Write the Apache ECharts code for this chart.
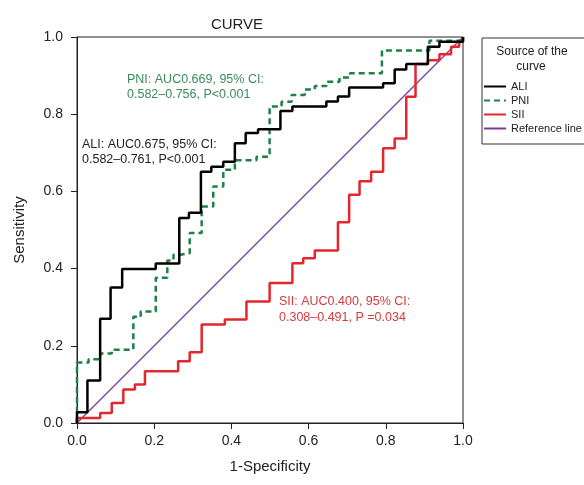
<!DOCTYPE html>
<html>
<head>
<meta charset="utf-8">
<script src="https://cdn.jsdelivr.net/npm/echarts@6/dist/echarts.min.js"></script>
<style>
  html, body { margin: 0; padding: 0; background: #fff; }
  #roc { width: 584px; height: 485px; }
</style>
</head>
<body>
<div id="roc"></div>
<script>
// corner points of the step curves (1-specificity, sensitivity)
const aliX = [0, 0, 0.027, 0.027, 0.06, 0.06, 0.087, 0.087, 0.117, 0.117, 0.204, 0.204, 0.265, 0.265, 0.29, 0.29, 0.321, 0.321, 0.348, 0.348, 0.379, 0.379, 0.409, 0.409, 0.437, 0.437, 0.469, 0.469, 0.527, 0.527, 0.558, 0.558, 0.646, 0.646, 0.676, 0.676, 0.705, 0.705, 0.793, 0.793, 0.823, 0.823, 0.853, 0.853, 0.909, 0.909, 0.939, 0.939, 1, 1];
const aliY = [0, 0.028, 0.028, 0.11, 0.11, 0.27, 0.27, 0.351, 0.351, 0.399, 0.399, 0.413, 0.413, 0.531, 0.531, 0.545, 0.545, 0.651, 0.651, 0.664, 0.664, 0.677, 0.677, 0.725, 0.725, 0.751, 0.751, 0.761, 0.761, 0.808, 0.808, 0.82, 0.82, 0.833, 0.833, 0.846, 0.846, 0.869, 0.869, 0.88, 0.88, 0.916, 0.916, 0.93, 0.93, 0.975, 0.975, 0.988, 0.988, 1];

const pniX = [0, 0, 0.03, 0.03, 0.06, 0.06, 0.09, 0.09, 0.146, 0.146, 0.165, 0.165, 0.204, 0.204, 0.234, 0.234, 0.25, 0.25, 0.268, 0.268, 0.292, 0.292, 0.323, 0.323, 0.353, 0.353, 0.379, 0.379, 0.409, 0.409, 0.465, 0.465, 0.499, 0.499, 0.53, 0.53, 0.556, 0.556, 0.59, 0.59, 0.616, 0.616, 0.646, 0.646, 0.68, 0.68, 0.707, 0.707, 0.79, 0.79, 0.913, 0.913, 1, 1];
const pniY = [0, 0.157, 0.157, 0.165, 0.165, 0.18, 0.18, 0.19, 0.19, 0.275, 0.275, 0.289, 0.289, 0.376, 0.376, 0.421, 0.421, 0.436, 0.436, 0.44, 0.44, 0.492, 0.492, 0.561, 0.561, 0.613, 0.613, 0.656, 0.656, 0.681, 0.681, 0.69, 0.69, 0.82, 0.82, 0.832, 0.832, 0.85, 0.85, 0.864, 0.864, 0.873, 0.873, 0.884, 0.884, 0.895, 0.895, 0.906, 0.906, 0.965, 0.965, 0.99, 0.99, 1];

const siiX = [0, 0, 0.06, 0.06, 0.09, 0.09, 0.12, 0.12, 0.15, 0.15, 0.176, 0.176, 0.262, 0.262, 0.292, 0.292, 0.323, 0.323, 0.383, 0.383, 0.439, 0.439, 0.499, 0.499, 0.558, 0.558, 0.586, 0.586, 0.616, 0.616, 0.676, 0.676, 0.705, 0.705, 0.732, 0.732, 0.762, 0.762, 0.793, 0.793, 0.823, 0.823, 0.853, 0.853, 0.877, 0.877, 0.909, 0.909, 0.939, 0.939, 0.969, 0.969, 0.99, 0.99, 1, 1];
const siiY = [0, 0.013, 0.013, 0.026, 0.026, 0.052, 0.052, 0.087, 0.087, 0.1, 0.1, 0.134, 0.134, 0.16, 0.16, 0.183, 0.183, 0.255, 0.255, 0.268, 0.268, 0.315, 0.315, 0.363, 0.363, 0.414, 0.414, 0.427, 0.427, 0.447, 0.447, 0.52, 0.52, 0.591, 0.591, 0.626, 0.626, 0.651, 0.651, 0.712, 0.712, 0.737, 0.737, 0.845, 0.845, 0.93, 0.93, 0.94, 0.94, 0.955, 0.955, 0.975, 0.975, 0.99, 0.99, 1];

const refX = [0, 1];
const refY = [0, 1];

function pairs(xs, ys) {
    return xs.map(function (x, i) { return [x, ys[i]]; });
}

var font = "'Liberation Sans', Arial, sans-serif";
var myChart = echarts.init(document.getElementById('roc'));

option = {
    animation: false,
    textStyle: { fontFamily: font },
    grid: {
        left: 77, right: 121, top: 37, bottom: 62,
        show: true, borderColor: '#222', borderWidth: 1
    },
    title: {
        text: 'CURVE',
        left: 232, top: 12,
        textAlign: 'center',
        textStyle: { fontFamily: font, fontSize: 15, fontWeight: 'normal', color: '#222' }
    },
    legend: {
        orient: 'vertical',
        left: 483, top: 81,
        itemWidth: 22, itemHeight: 10, itemGap: 3,
        padding: 0,
        itemStyle: { opacity: 0 },
        textStyle: { fontFamily: font, fontSize: 11, color: '#222' },
        data: ['ALI', 'PNI', 'SII', 'Reference line']
    },
    xAxis: {
        type: 'value', min: 0, max: 1, interval: 0.2,
        name: '1-Specificity', nameLocation: 'middle', nameGap: 36,
        nameTextStyle: { fontFamily: font, fontSize: 15, color: '#222' },
        axisLine: { lineStyle: { color: '#222', width: 1 } },
        axisTick: { length: 6, lineStyle: { color: '#222' } },
        axisLabel: { fontFamily: font, fontSize: 14, color: '#222', margin: 11,
            formatter: function (v) { return v.toFixed(1); } },
        splitLine: { show: false }
    },
    yAxis: {
        type: 'value', min: 0, max: 1, interval: 0.2,
        name: 'Sensitivity', nameLocation: 'middle', nameGap: 50,
        nameTextStyle: { fontFamily: font, fontSize: 15, color: '#222' },
        axisLine: { lineStyle: { color: '#222', width: 1 } },
        axisTick: { length: 6, lineStyle: { color: '#222' } },
        axisLabel: { fontFamily: font, fontSize: 14, color: '#222', margin: 14,
            formatter: function (v) { return v.toFixed(1); } },
        splitLine: { show: false }
    },
    graphic: [
        { type: 'rect', shape: { x: 482, y: 38, width: 120, height: 106 },
          style: { fill: '#fff', stroke: '#333', lineWidth: 1 }, z: -1 },
        { type: 'text',
          style: { text: 'Source of the', x: 532, y: 52, fontFamily: font, fontSize: 12, fill: '#222',
                   textAlign: 'center', textVerticalAlign: 'middle' } },
        { type: 'text',
          style: { text: 'curve', x: 531, y: 67, fontFamily: font, fontSize: 12, fill: '#222',
                   textAlign: 'center', textVerticalAlign: 'middle' } },
        { type: 'text',
          style: { text: 'PNI: AUC0.669, 95% CI:\n0.582\u20130.756, P<0.001', x: 127, y: 72,
                   fontFamily: font, fontSize: 12.5, lineHeight: 15, fill: '#3b8b5c' } },
        { type: 'text',
          style: { text: 'ALI: AUC0.675, 95% CI:\n0.582\u20130.761, P<0.001', x: 82, y: 137,
                   fontFamily: font, fontSize: 12.5, lineHeight: 15, fill: '#222' } },
        { type: 'text',
          style: { text: 'SII: AUC0.400, 95% CI:\n0.308\u20130.491, P =0.034', x: 279, y: 294,
                   fontFamily: font, fontSize: 12.5, lineHeight: 16, fill: '#d8393f' } }
    ],
    series: [{
        name: 'Reference line',
        type: 'line',
        data: pairs(refX, refY),
        symbol: 'none',
        lineStyle: { color: '#7b3c98', width: 1.2 },
        itemStyle: { color: '#7b3c98' },
        z: 1
    }, {
        name: 'SII',
        type: 'line',
        data: pairs(siiX, siiY),
        symbol: 'none',
        lineStyle: { color: '#e4262f', width: 2.5 },
        itemStyle: { color: '#e4262f' },
        z: 2
    }, {
        name: 'PNI',
        type: 'line',
        data: pairs(pniX, pniY),
        symbol: 'none',
        lineStyle: { color: '#1f8048', width: 2.5, type: [6, 4] },
        itemStyle: { color: '#1f8048' },
        z: 3
    }, {
        name: 'ALI',
        type: 'line',
        data: pairs(aliX, aliY),
        symbol: 'none',
        lineStyle: { color: '#000', width: 2.5 },
        itemStyle: { color: '#000' },
        z: 4
    }]
};
myChart.setOption(option);
</script>
</body>
</html>
